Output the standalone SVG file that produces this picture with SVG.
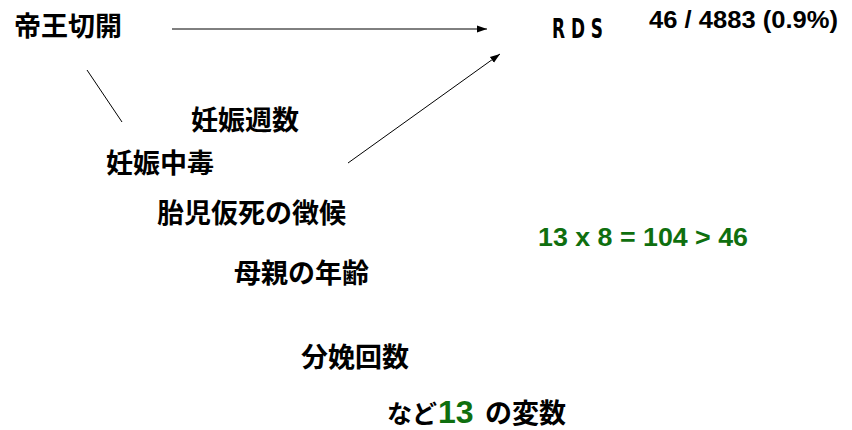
<svg xmlns="http://www.w3.org/2000/svg" width="852" height="430" viewBox="0 0 852 430">
<defs>
<style>
.jp{font-family:"Noto Sans CJK JP","Noto Sans",sans-serif;font-weight:bold;font-size:27px;fill:#000}
.num{font-family:"Liberation Sans",Arial,sans-serif;font-weight:bold}
.green{fill:#0f6f0f}
.ln{stroke:#000;stroke-width:1;fill:none}
</style>
<marker id="ah" viewBox="0 0 10 10" refX="10" refY="5" markerWidth="10" markerHeight="10" markerUnits="userSpaceOnUse" orient="auto">
<path d="M0,1.5 L10,5 L0,8.5 Z" fill="#000"/>
</marker>
</defs>
<rect width="852" height="430" fill="#fff"/>
<g id="connectors">
<line class="ln" x1="172" y1="29" x2="487" y2="29" marker-end="url(#ah)"/>
<line class="ln" x1="348" y1="163" x2="500" y2="54" marker-end="url(#ah)"/>
<line class="ln" x1="87" y1="70" x2="122" y2="122"/>
</g>
<g id="n-cesarean"><text class="jp" x="14" y="36">帝王切開</text></g>
<g id="n-rds"><text x="552" y="38" font-family="'DejaVu Sans Condensed','DejaVu Sans',sans-serif" font-weight="bold" font-size="26" textLength="51" lengthAdjust="spacingAndGlyphs">R D S</text></g>
<g id="n-rate"><text class="num" x="649" y="28" style="font-size:24px" textLength="189" lengthAdjust="spacingAndGlyphs">46 / 4883 (0.9%)</text></g>
<g id="n-weeks"><text class="jp" x="191" y="130">妊娠週数</text></g>
<g id="n-toxemia"><text class="jp" x="106" y="173">妊娠中毒</text></g>
<g id="n-distress"><text class="jp" x="157" y="223">胎児仮死の徴候</text></g>
<g id="n-calc"><text class="num green" x="538" y="246" style="font-size:25px" textLength="210" lengthAdjust="spacingAndGlyphs">13 x 8 = 104 &gt; 46</text></g>
<g id="n-age"><text class="jp" x="234" y="283">母親の年齢</text></g>
<g id="n-parity"><text class="jp" x="301" y="367">分娩回数</text></g>
<g id="n-vars">
<text class="jp" x="387" y="423" style="font-size:25px">など</text>
<text class="num green" x="438" y="423" style="font-size:32px">13</text>
<text class="jp" x="485" y="423">の変数</text>
</g>
</svg>
